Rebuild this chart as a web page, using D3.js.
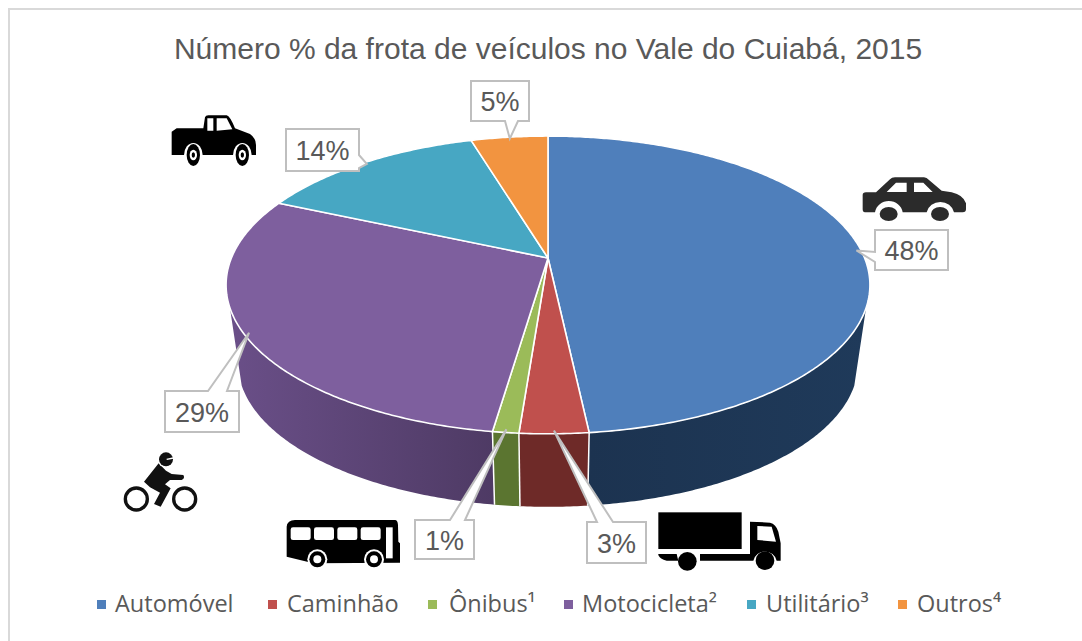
<!DOCTYPE html>
<html><head><meta charset="utf-8">
<script src="https://cdn.jsdelivr.net/npm/d3@7"></script>
<style>html,body{margin:0;padding:0;background:#fff}svg{display:block}</style>
</head><body><svg id="c" width="1082" height="641"></svg>
<script>
const chartTitle = "Número % da frota de veículos no Vale do Cuiabá, 2015";
const categories = ["Automóvel","Caminhão","Ônibus¹","Motocicleta²","Utilitário³","Outros⁴"];
const values = [48.3,2.9,1.1,29.4,13.7,4.6];
const topColors = ["#4f7fbb","#c0504d","#9bbb59","#7e5f9e","#47a7c3","#f29440"];
const wallLeft = ["#1c3350","#6e2a28","#5b7530","#6a4f88","#2a6a7d","#a06028"];
const wallRight = ["#1f3a5a","#6e2a28","#5b7530","#4e3a64","#2a6a7d","#a06028"];

// layout
const W=1082,H=641, apex={x:548,y:258};
const persp=0.181, a=316.6, b=144, wallScale=0.963, wallDrop=79.5;
const legendSquareX=[97,268,428,564,747,898], legendTextX=[115,287,449,582,766,917];
// callout boxes: [x0,y0,x1,y1, base side, base a, base b]
const boxes=[
 [875,230,948,270,"l",252,262],
 [587,522,646,563,"t",597,613],
 [415,520,474,559,"t",450,465],
 [165,391,239,432,"t",208,227],
 [286,129,359,171,"r",155,168],
 [471,81,529,121,"b",505,518]];

const svg=d3.select("#c");
function project(theta,r=1){
  const u=r*Math.sin(theta), v=-r*Math.cos(theta), w=1-persp*v;
  return [apex.x+a*u/w, apex.y+b*v/w];
}
function projectLow(theta){
  const [x,y]=project(theta);
  return [apex.x+(x-apex.x)*wallScale, apex.y+(y-apex.y)*wallScale+wallDrop];
}
const pie=d3.pie().sort(null).value(d=>d);
const arcs=pie(values);
const line=d3.line();
const samples=(s,e)=>{const n=Math.max(2,Math.ceil((e-s)/0.01));return d3.range(n+1).map(i=>s+(e-s)*i/n);};

svg.append("rect").attr("x",9).attr("y",9).attr("width",W+20).attr("height",H+20).attr("fill","#fff").attr("stroke","#d9d9d9").attr("stroke-width",2);

const defs=svg.append("defs");
// walls
const visS=109*Math.PI/180, visE=251*Math.PI/180;
const wallG=svg.append("g");
arcs.forEach((d,i)=>{
  const s=Math.max(d.startAngle,visS), e=Math.min(d.endAngle,visE);
  if(e<=s) return;
  const ts=samples(s,e);
  const pts=ts.map(t=>project(t)).concat(ts.slice().reverse().map(projectLow));
  const xs=pts.map(p=>p[0]);
  const gid="wall"+i;
  const g=defs.append("linearGradient").attr("id",gid).attr("gradientUnits","userSpaceOnUse")
    .attr("x1",d3.min(xs)).attr("x2",d3.max(xs)).attr("y1",0).attr("y2",0);
  g.append("stop").attr("offset",0).attr("stop-color",wallLeft[i]);
  g.append("stop").attr("offset",1).attr("stop-color",wallRight[i]);
  wallG.append("path").attr("d",line(pts)+"Z").attr("fill",`url(#${gid})`);
});
// dividers
arcs.forEach(d=>{
  if(d.endAngle>visS&&d.endAngle<visE){
    const p=project(d.endAngle), q=projectLow(d.endAngle);
    wallG.append("line").attr("x1",p[0]).attr("y1",p[1]).attr("x2",q[0]).attr("y2",q[1]).attr("stroke","#fff").attr("stroke-width",1.5);
  }
});
// top
svg.append("g").selectAll("path").data(arcs).join("path")
  .attr("d",d=>line([[apex.x,apex.y]].concat(samples(d.startAngle,d.endAngle).map(t=>project(t))))+"Z")
  .attr("fill",(d,i)=>topColors[i]).attr("stroke","#fff").attr("stroke-width",1.6).attr("stroke-linejoin","round");

// title
svg.append("text").attr("x",548).attr("y",59).attr("text-anchor","middle")
  .attr("font-family","Liberation Sans").attr("font-size",30).attr("fill","#595959").text(chartTitle);

// callouts
arcs.forEach((d,i)=>{
  const [x0,y0,x1,y1,side,pa,pb]=boxes[i];
  const tip=project((d.startAngle+d.endAngle)/2,0.985);
  let p;
  if(side==="l") p=[[x0,y0],[x1,y0],[x1,y1],[x0,y1],[x0,pb],tip,[x0,pa]];
  if(side==="r") p=[[x0,y0],[x1,y0],[x1,pa],tip,[x1,pb],[x1,y1],[x0,y1]];
  if(side==="t") p=[[x0,y0],[pa,y0],tip,[pb,y0],[x1,y0],[x1,y1],[x0,y1]];
  if(side==="b") p=[[x0,y0],[x1,y0],[x1,y1],[pb,y1],tip,[pa,y1],[x0,y1]];
  svg.append("path").attr("d",line(p)+"Z").attr("fill","#fff").attr("stroke","#bfbfbf").attr("stroke-width",2);
  svg.append("text").attr("x",(x0+x1)/2).attr("y",(y0+y1)/2+10).attr("text-anchor","middle")
    .attr("font-family","Liberation Sans").attr("font-size",27).attr("fill","#595959").text(Math.round(values[i])+"%");
});

// legend
const lg=svg.append("g");
categories.forEach((c,i)=>{
  lg.append("rect").attr("x",legendSquareX[i]).attr("y",600).attr("width",9).attr("height",9).attr("fill",topColors[i]);
  lg.append("text").attr("x",legendTextX[i]).attr("y",612).attr("font-family","Open Sans").attr("font-size",23.5).attr("fill","#595959").text(c);
});

// icons (drawn in 3x crop coordinates)
const icon=(ox,oy)=>svg.append("g").attr("transform",`translate(${ox},${oy}) scale(${1/3})`);
// car
let g=icon(780,150);
g.append("path").attr("fill","#2b2b2b").attr("d","M248,135Q248,127 258,127L288,127L330,88Q335,82 345,82L432,82Q440,82 447,90L485,122L515,127Q550,135 558,160L558,178Q558,187 548,187L522,187A42,40 0 0 0 440,187L368,187A42,40 0 0 0 285,187L255,187Q248,187 248,178Z");
g.append("path").attr("fill","#fff").attr("d","M320,126L348,98L380,98L380,126ZM402,98L430,98L458,126L402,126Z");
[326,480].forEach(x=>g.append("ellipse").attr("cx",x).attr("cy",192).attr("rx",27).attr("ry",21).attr("fill","#2b2b2b"));
// pickup
g=icon(0,0);
g.append("path").attr("fill","#000").attr("d","M515,395L530,385L610,385L615,352Q617,346 625,346L680,346Q690,348 705,385L750,402Q768,415 768,435L768,465L515,465Z");
g.append("path").attr("fill","#fff").attr("d","M622,355L640,355L640,392L622,392ZM650,355L680,355L697,388L650,392Z");
[580,727].forEach(x=>{
  g.append("path").attr("d",`M${x-28},465A28,36 0 0 1 ${x+28},465Z`).attr("fill","#fff");
  g.append("ellipse").attr("cx",x).attr("cy",465).attr("rx",20).attr("ry",33).attr("fill","#000");
  g.append("ellipse").attr("cx",x).attr("cy",465).attr("rx",11).attr("ry",16).attr("fill","#fff");
  g.append("ellipse").attr("cx",x).attr("cy",465).attr("rx",5).attr("ry",8).attr("fill","#000");
});
// motorcycle
g=icon(100,300);
[109,254].forEach(x=>g.append("circle").attr("cx",x).attr("cy",597).attr("r",33).attr("fill","none").attr("stroke","#111").attr("stroke-width",10));
g.append("path").attr("fill","#111").attr("d","M176,490L198,512L215,522L250,525Q256,535 245,540L210,540L195,553L212,565L182,620L162,612L180,578L150,562L132,545Z");
g.append("circle").attr("cx",198).attr("cy",478).attr("r",25).attr("fill","#fff");
g.append("circle").attr("cx",198).attr("cy",478).attr("r",21).attr("fill","#111");
g.append("path").attr("d","M200,478L220,474").attr("stroke","#fff").attr("stroke-width",4);
// bus
g=icon(100,300);
g.append("path").attr("fill","#000").attr("d","M560,680Q562,660 585,660L885,660Q893,660 894,675L895,725L900,730L900,788L640,790L560,770Z");
g.append("g").attr("fill","#fff").selectAll("rect").data([572,642,712,782]).join("rect").attr("x",d=>d).attr("y",682).attr("width",60).attr("height",38).attr("rx",7);
g.append("rect").attr("x",858).attr("y",682).attr("width",20).attr("height",93).attr("fill","#fff");
[652,822].forEach(x=>{
  g.append("circle").attr("cx",x).attr("cy",778).attr("r",30).attr("fill","#fff");
  g.append("circle").attr("cx",x).attr("cy",778).attr("r",24).attr("fill","#000");
  g.append("circle").attr("cx",x).attr("cy",778).attr("r",12).attr("fill","#fff");
});
// truck
g=icon(420,400);
g.append("rect").attr("x",715).attr("y",337).attr("width",250).attr("height",110).attr("fill","#000");
g.append("path").attr("fill","#000").attr("d","M990,365L1050,368Q1068,372 1075,395L1082,430L1082,482L1070,482A36,36 0 0 0 1000,482L840,482L840,462L990,462Z");
g.append("path").attr("fill","#000").attr("d","M715,462L770,462L775,482L740,482Q720,478 715,465Z");
g.append("path").attr("fill","#fff").attr("d","M1012,378L1055,380L1068,425L1012,420Z");
[[802,484],[1035,482]].forEach(c=>g.append("circle").attr("cx",c[0]).attr("cy",c[1]).attr("r",28).attr("fill","#000"));
</script></body></html>
